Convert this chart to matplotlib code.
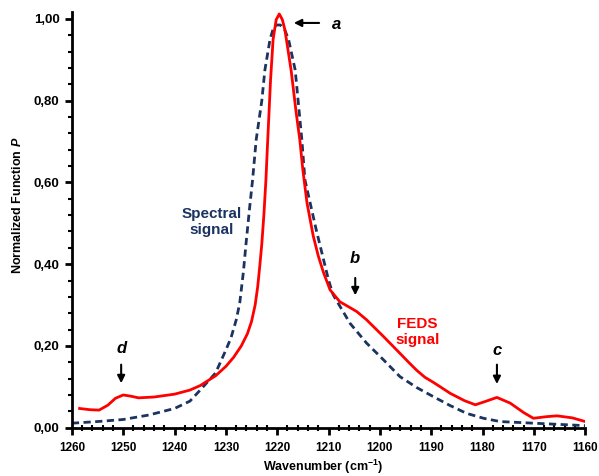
import matplotlib
matplotlib.use("Agg")
import matplotlib.pyplot as plt
from matplotlib.ticker import MultipleLocator, FuncFormatter

plt.rcParams['font.family'] = ['Liberation Sans', 'DejaVu Sans']
plt.rcParams['mathtext.fontset'] = 'custom'
plt.rcParams['mathtext.rm'] = 'Liberation Sans:bold'
plt.rcParams['mathtext.bf'] = 'Liberation Sans:bold'
plt.rcParams['mathtext.it'] = 'Liberation Sans:bold:italic'

# FEDS signal (red)
feds_x = [1258.5, 1256.5, 1254.7, 1253.0, 1251.5, 1250.0, 1248.5, 1247.0, 1244.0, 1240.0,
          1237.0, 1235.0, 1232.0, 1230.0, 1228.5, 1227.0, 1225.8, 1225.0, 1224.3, 1223.8,
          1223.4, 1223.0, 1222.6, 1222.2, 1221.9, 1221.3, 1220.8, 1220.2, 1219.6, 1219.0,
          1218.5, 1217.3, 1216.3, 1215.6, 1215.0, 1214.2, 1213.0, 1212.0, 1211.0, 1209.7,
          1207.8, 1206.0, 1204.5, 1202.6, 1199.3, 1196.1, 1194.4, 1192.8, 1191.2, 1189.6,
          1188.0, 1186.3, 1183.5, 1181.4, 1179.5, 1177.2, 1174.6, 1172.0, 1170.1, 1167.5,
          1165.5, 1162.5, 1160.0]
feds_y = [0.047, 0.044, 0.043, 0.055, 0.072, 0.080, 0.077, 0.073, 0.075, 0.082,
          0.092, 0.103, 0.127, 0.150, 0.172, 0.200, 0.230, 0.260, 0.300, 0.345,
          0.395, 0.450, 0.520, 0.606, 0.690, 0.850, 0.950, 0.998, 1.012, 0.998,
          0.973, 0.875, 0.770, 0.704, 0.630, 0.550, 0.470, 0.420, 0.380, 0.337,
          0.308, 0.295, 0.284, 0.264, 0.223, 0.182, 0.160, 0.140, 0.123, 0.111,
          0.098, 0.084, 0.066, 0.056, 0.064, 0.074, 0.060, 0.037, 0.023, 0.027,
          0.029, 0.024, 0.015]

# Spectral signal (dark blue, dashed)
spec_x = [1260.0, 1255.0, 1250.0, 1245.0, 1240.0, 1237.0, 1235.0, 1232.0, 1230.0, 1229.0,
          1228.0, 1227.3, 1226.6, 1226.0, 1225.4, 1224.8, 1224.1, 1223.0, 1222.4, 1221.4,
          1220.8, 1220.2, 1219.4, 1218.6, 1217.8, 1216.5, 1215.2, 1214.6, 1212.4, 1210.0,
          1209.1, 1205.8, 1202.6, 1199.3, 1196.1, 1192.8, 1189.6, 1186.3, 1183.1, 1179.8,
          1176.6, 1170.1, 1165.0, 1160.0]
spec_y = [0.011, 0.015, 0.020, 0.031, 0.047, 0.065, 0.092, 0.134, 0.190, 0.220,
          0.263, 0.305, 0.380, 0.460, 0.535, 0.606, 0.704, 0.800, 0.875, 0.950,
          0.975, 0.985, 0.985, 0.975, 0.950, 0.875, 0.704, 0.606, 0.484, 0.361,
          0.325, 0.255, 0.207, 0.166, 0.125, 0.098, 0.076, 0.054, 0.035, 0.023,
          0.015, 0.011, 0.008, 0.005]

# annotation labels: (label, x, text_y, arrow_start_y, arrow_end_y)
peak_marks = [("b", 1204.8, 0.415, 0.373, 0.317),
              ("c", 1177.2, 0.19, 0.161, 0.100),
              ("d", 1250.4, 0.194, 0.161, 0.102)]

navy = '#1b3361'
red = '#ff0000'

fig = plt.figure(figsize=(5.99, 4.76), dpi=100)
ax = fig.add_axes([0.120, 0.1015, 0.857, 0.8735])

ax.plot(spec_x, spec_y, color=navy, lw=2.0, ls=(0, (2.6, 1.6)))
ax.plot(feds_x, feds_y, color=red, lw=2.0)

ax.set_xlim(1260, 1160)
ax.set_ylim(0, 1.017)
ax.xaxis.set_major_locator(MultipleLocator(10))
ax.xaxis.set_minor_locator(MultipleLocator(2))
ax.yaxis.set_major_locator(MultipleLocator(0.2))
ax.yaxis.set_minor_locator(MultipleLocator(0.04))
ax.yaxis.set_major_formatter(FuncFormatter(lambda v, p: f"{v:.2f}".replace('.', ',')))

for s in ['top', 'right']:
    ax.spines[s].set_visible(False)
for s in ['left', 'bottom']:
    ax.spines[s].set_linewidth(2.0)
ax.tick_params(which='major', direction='out', length=5, width=2.0, pad=4)
ax.tick_params(axis='y', labelsize=9.5)
ax.tick_params(axis='x', labelsize=8.5, pad=5)
ax.tick_params(which='minor', direction='out', length=3, width=1.5)
ax.tick_params(axis='x', which='minor', direction='inout', length=4)
for lab in ax.get_xticklabels() + ax.get_yticklabels():
    lab.set_fontweight('bold')

fig.text(323 / 599, 1 - 467 / 476, 'Wavenumber (cm$^{-1}$)', fontsize=9, fontweight='bold',
         ha='center', va='center')
fig.text(18 / 599, 1 - 205 / 476, 'Normalized Function $P$', fontsize=9, fontweight='bold',
         ha='center', va='center', rotation=90)

arrow = dict(arrowstyle='-|>', color='black', lw=1.5, mutation_scale=11)
ax.annotate('', xy=(1217.3, 0.99), xytext=(1211.3, 0.99), arrowprops=arrow)
ax.text(1208.5, 0.985, 'a', fontsize=12, fontweight='bold', style='italic', ha='center', va='center')
for lab, x, ty, y0, y1 in peak_marks:
    ax.annotate('', xy=(x, y1), xytext=(x, y0), arrowprops=arrow)
    ax.text(x, ty, lab, fontsize=12, fontweight='bold', style='italic', ha='center', va='center')

ax.text(1232.7, 0.503, 'Spectral\nsignal', color=navy, fontsize=11, fontweight='bold',
        ha='center', va='center', linespacing=1.15)
ax.text(1192.7, 0.234, 'FEDS\nsignal', color=red, fontsize=11, fontweight='bold',
        ha='center', va='center', linespacing=1.15)

fig.savefig('out.png', dpi=100)
